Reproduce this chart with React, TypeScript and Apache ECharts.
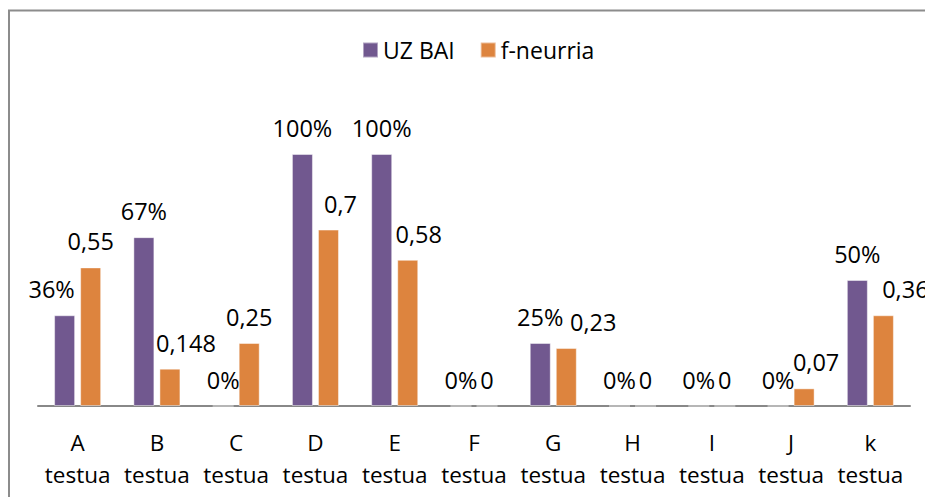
import React, { useEffect, useRef } from "react";
import * as echarts from "echarts";

const categories = ["A\ntestua", "B\ntestua", "C\ntestua", "D\ntestua", "E\ntestua", "F\ntestua", "G\ntestua", "H\ntestua", "I\ntestua", "J\ntestua", "k\ntestua"];
const uzBai = [0.36, 0.67, 0, 1, 1, 0, 0.25, 0, 0, 0, 0.5];
const fNeurria = [0.55, 0.148, 0.25, 0.7, 0.58, 0, 0.23, 0, 0, 0.07, 0.36];
const seriesNames = ["UZ BAI", "f-neurria"];

// label horizontal nudges (layout only)
const uzLabelDx: Record<number, number> = { 0: -13 };
const fLabelDx: Record<number, number> = { 1: 16, 3: 12, 4: 11, 6: 27, 9: 12, 10: 22 };

const FONT = "Open Sans";

export default function App() {
  const ref = useRef<HTMLDivElement>(null);
  useEffect(() => {
    if (!ref.current) return;
    const chart = echarts.init(ref.current, undefined, { renderer: "svg" });
    const labelBase = {
      show: true,
      position: "top" as const,
      distance: 14,
      fontFamily: FONT,
      fontSize: 23.5,
      color: "#000",
    };
    chart.setOption({
      animation: false,
      backgroundColor: "#fff",
      legend: {
        left: 357,
        top: 33.5,
        itemWidth: 15,
        itemHeight: 15,
        itemGap: 25,
        icon: "rect",
        textStyle: { fontFamily: FONT, fontSize: 23, color: "#000", lineHeight: 23 },
        data: seriesNames,
      },
      grid: { left: 38, right: 15, top: 103.6, bottom: 91, containLabel: false },
      xAxis: {
        type: "category",
        data: categories,
        axisLine: { lineStyle: { color: "#888", width: 2 } },
        axisTick: { show: false },
        axisLabel: { fontFamily: FONT, fontSize: 22.5, color: "#000", lineHeight: 32, margin: 20, interval: 0 },
      },
      yAxis: { type: "value", min: 0, max: 1.2, show: false, splitLine: { show: false } },
      graphic: [
        {
          type: "rect",
          shape: { x: 9, y: 10.5, width: 1200, height: 1000 },
          style: { fill: "none", stroke: "#8c8c8c", lineWidth: 2 },
          silent: true,
        },
      ],
      series: [
        {
          name: seriesNames[0],
          type: "bar",
          barWidth: 21,
          barGap: "24%",
          itemStyle: { color: "#71588F", borderColor: "rgba(255,255,255,0.45)", borderWidth: 1 },
          data: uzBai.map((v, i) => ({
            value: v,
            label: { ...labelBase, offset: [uzLabelDx[i] || 0, 0], formatter: () => Math.round(v * 100) + "%" },
          })),
        },
        {
          name: seriesNames[1],
          type: "bar",
          barWidth: 21,
          barGap: "24%",
          itemStyle: { color: "#DD843E", borderColor: "rgba(255,255,255,0.45)", borderWidth: 1 },
          data: fNeurria.map((v, i) => ({
            value: v,
            label: { ...labelBase, offset: [fLabelDx[i] || 0, 0], formatter: () => String(v).replace(".", ",") },
          })),
        },
      ],
    });
    return () => chart.dispose();
  }, []);
  return <div ref={ref} style={{ position: "absolute", left: 0, top: 0, width: 925, height: 497 }} />;
}
